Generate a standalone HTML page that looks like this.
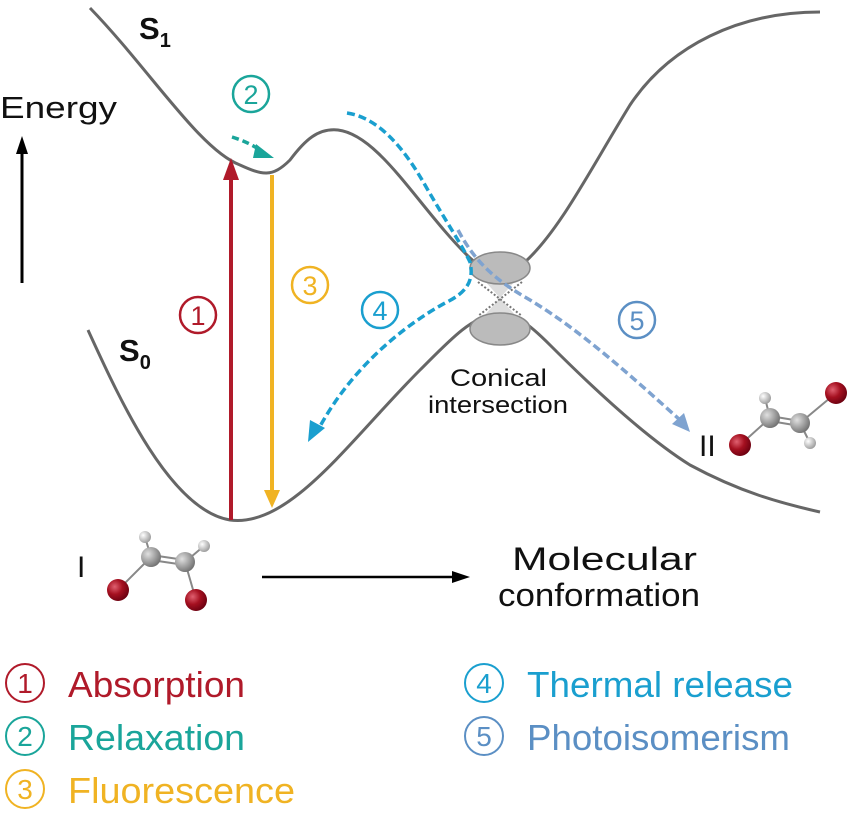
<!DOCTYPE html>
<html><head><meta charset="utf-8"><style>
html,body{margin:0;padding:0;background:#fff;}
svg{display:block;font-family:"Liberation Sans",sans-serif;}
</style></head><body>
<svg width="850" height="822" viewBox="0 0 850 822">
<defs>
<radialGradient id="br" cx="0.35" cy="0.35" r="0.7"><stop offset="0" stop-color="#e06070"/><stop offset="0.5" stop-color="#a51020"/><stop offset="1" stop-color="#6a0010"/></radialGradient>
<radialGradient id="c" cx="0.35" cy="0.35" r="0.7"><stop offset="0" stop-color="#e0e0e0"/><stop offset="1" stop-color="#707070"/></radialGradient>
<radialGradient id="h" cx="0.35" cy="0.35" r="0.7"><stop offset="0" stop-color="#ffffff"/><stop offset="1" stop-color="#9a9a9a"/></radialGradient>
</defs>
<!-- curves -->
<path d="M90,8 C150,70 200,150 240,165 C262,175 272,178 290,160 C305,140 318,128 338,130 C380,135 420,210 470,258 C485,272 505,272 525,262 C560,230 590,170 630,105 C670,45 740,12 820,12" fill="none" stroke="#666" stroke-width="3"/>
<path d="M88,330 C120,400 170,510 230,520 C290,528 350,440 420,370 C450,340 470,318 495,314 C515,312 530,325 550,345 C600,395 650,440 690,465 C740,492 780,503 820,512" fill="none" stroke="#666" stroke-width="3"/>
<!-- conical intersection -->
<path d="M475,270 L525,270 L500,298 L525,326 L475,326 L500,298z" fill="#ddd"/>
<ellipse cx="500" cy="268" rx="30" ry="16" fill="#bbb" stroke="#888" stroke-width="1.5"/>
<ellipse cx="500" cy="329" rx="30" ry="16" fill="#bbb" stroke="#888" stroke-width="1.5"/>
<path d="M478,282 L522,316 M522,282 L478,316" stroke="#777" stroke-width="2" stroke-dasharray="2,2"/>
<!-- arrows -->
<g><line x1="231" y1="520" x2="231" y2="175" stroke="#b01a2a" stroke-width="4"/><path d="M223,180 L231,158 L239,180z" fill="#b01a2a"/></g>
<g><line x1="272" y1="175" x2="272" y2="492" stroke="#f0b323" stroke-width="4"/><path d="M264,490 L272,508 L280,490z" fill="#f0b323"/></g>
<g><path d="M232,137 Q248,142 260,150" fill="none" stroke="#1aa59a" stroke-width="3.5" stroke-dasharray="7,4"/><path d="M256,144 L274,158 L253,158z" fill="#1aa59a"/></g>
<g><path d="M347,113 C380,118 405,150 425,185 C445,220 462,245 470,262 C474,280 468,292 445,303 C400,328 350,370 318,430" fill="none" stroke="#1a9fcf" stroke-width="3.5" stroke-dasharray="8,4"/><path d="M310,420 L308,442 L325,428z" fill="#1a9fcf"/></g>
<g><path d="M458,230 C475,262 495,280 530,300 C580,330 630,375 680,420" fill="none" stroke="#7fa3d0" stroke-width="3.5" stroke-dasharray="8,4"/><path d="M672,424 L690,432 L684,413z" fill="#7fa3d0"/></g>
<!-- numbered circles -->
<g font-size="27" text-anchor="middle">
<g><circle cx="251" cy="94" r="18" fill="none" stroke="#1aa59a" stroke-width="2.5"/><text x="251" y="104" fill="#1aa59a">2</text></g>
<g><circle cx="198" cy="315" r="18" fill="none" stroke="#b01a2a" stroke-width="2.5"/><text x="198" y="325" fill="#b01a2a">1</text></g>
<g><circle cx="310" cy="285" r="18" fill="none" stroke="#f0b323" stroke-width="2.5"/><text x="310" y="295" fill="#f0b323">3</text></g>
<g><circle cx="380" cy="310" r="18" fill="none" stroke="#1a9fcf" stroke-width="2.5"/><text x="380" y="320" fill="#1a9fcf">4</text></g>
<g><circle cx="637" cy="320" r="18" fill="none" stroke="#5b8fc4" stroke-width="2.5"/><text x="637" y="330" fill="#5b8fc4">5</text></g>
</g>
<!-- labels -->
<text x="139" y="39" font-size="31" font-weight="bold" fill="#111">S<tspan font-size="20" dy="8">1</tspan></text>
<text x="119" y="361" font-size="31" font-weight="bold" fill="#111">S<tspan font-size="20" dy="8">0</tspan></text>
<text x="0" y="118" font-size="31" textLength="117" lengthAdjust="spacingAndGlyphs" fill="#111">Energy</text>
<g><line x1="22" y1="283" x2="22" y2="150" stroke="#000" stroke-width="3"/><path d="M16,154 L22,136 L28,154z" fill="#000"/></g>
<text x="450" y="386" font-size="24" textLength="97" lengthAdjust="spacingAndGlyphs" fill="#111">Conical</text>
<text x="428" y="413" font-size="24" textLength="140" lengthAdjust="spacingAndGlyphs" fill="#111">intersection</text>
<text x="699" y="456" font-size="30" fill="#111">II</text>
<text x="77" y="577" font-size="30" fill="#111">I</text>
<g><line x1="262" y1="577" x2="455" y2="577" stroke="#000" stroke-width="2.5"/><path d="M452,571 L470,577 L452,583z" fill="#000"/></g>
<text x="512" y="570" font-size="32" textLength="185" lengthAdjust="spacingAndGlyphs" fill="#111">Molecular</text>
<text x="498" y="606" font-size="32" textLength="202" lengthAdjust="spacingAndGlyphs" fill="#111">conformation</text>
<!-- molecule I -->
<g stroke="#888" stroke-width="2">
<line x1="151" y1="557" x2="145" y2="537"/><line x1="151" y1="557" x2="118" y2="590"/><line x1="151" y1="555" x2="185" y2="560"/><line x1="151" y1="560" x2="185" y2="565"/><line x1="185" y1="562" x2="204" y2="546"/><line x1="185" y1="562" x2="196" y2="600"/>
<circle cx="145" cy="537" r="6" fill="url(#h)" stroke="none"/><circle cx="204" cy="546" r="6" fill="url(#h)" stroke="none"/>
<circle cx="151" cy="557" r="10" fill="url(#c)" stroke="none"/><circle cx="185" cy="562" r="10" fill="url(#c)" stroke="none"/>
<circle cx="118" cy="590" r="11" fill="url(#br)" stroke="none"/><circle cx="196" cy="600" r="11" fill="url(#br)" stroke="none"/>
</g>
<!-- molecule II -->
<g stroke="#888" stroke-width="2">
<line x1="770" y1="418" x2="765" y2="398"/><line x1="770" y1="418" x2="740" y2="445"/><line x1="770" y1="416" x2="800" y2="421"/><line x1="770" y1="421" x2="800" y2="426"/><line x1="800" y1="423" x2="810" y2="443"/><line x1="800" y1="423" x2="836" y2="393"/>
<circle cx="765" cy="398" r="6" fill="url(#h)" stroke="none"/><circle cx="810" cy="443" r="6" fill="url(#h)" stroke="none"/>
<circle cx="770" cy="418" r="10" fill="url(#c)" stroke="none"/><circle cx="800" cy="423" r="10" fill="url(#c)" stroke="none"/>
<circle cx="740" cy="445" r="11" fill="url(#br)" stroke="none"/><circle cx="836" cy="393" r="11" fill="url(#br)" stroke="none"/>
</g>
<!-- legend -->
<g font-size="36">
<g><circle cx="25" cy="683" r="19" fill="none" stroke="#b01a2a" stroke-width="2"/><text x="25" y="693" font-size="28" text-anchor="middle" fill="#b01a2a">1</text><text x="68" y="697" textLength="177" lengthAdjust="spacingAndGlyphs" fill="#b01a2a">Absorption</text></g>
<g><circle cx="25" cy="736" r="19" fill="none" stroke="#1aa59a" stroke-width="2"/><text x="25" y="746" font-size="28" text-anchor="middle" fill="#1aa59a">2</text><text x="68" y="750" textLength="177" lengthAdjust="spacingAndGlyphs" fill="#1aa59a">Relaxation</text></g>
<g><circle cx="25" cy="789" r="19" fill="none" stroke="#f0b323" stroke-width="2"/><text x="25" y="799" font-size="28" text-anchor="middle" fill="#f0b323">3</text><text x="68" y="803" textLength="227" lengthAdjust="spacingAndGlyphs" fill="#f0b323">Fluorescence</text></g>
<g><circle cx="484" cy="683" r="19" fill="none" stroke="#1a9fcf" stroke-width="2"/><text x="484" y="693" font-size="28" text-anchor="middle" fill="#1a9fcf">4</text><text x="527" y="697" textLength="266" lengthAdjust="spacingAndGlyphs" fill="#1a9fcf">Thermal release</text></g>
<g><circle cx="484" cy="736" r="19" fill="none" stroke="#5b8fc4" stroke-width="2"/><text x="484" y="746" font-size="28" text-anchor="middle" fill="#5b8fc4">5</text><text x="527" y="750" textLength="263" lengthAdjust="spacingAndGlyphs" fill="#5b8fc4">Photoisomerism</text></g>
</g>
</svg>
</body></html>
